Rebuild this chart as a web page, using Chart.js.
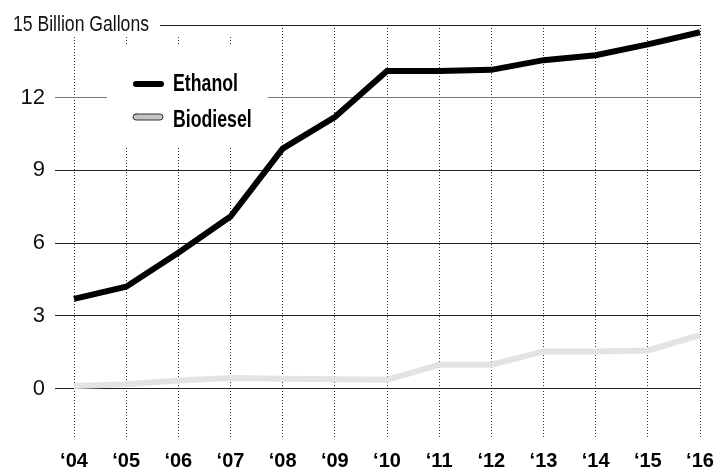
<!DOCTYPE html>
<html>
<head>
<meta charset="utf-8">
<script src="https://cdn.jsdelivr.net/npm/chart.js@4"></script>
<style>
  html, body { margin: 0; padding: 0; background: #fff; }
  #wrap { width: 717px; height: 467px; }
</style>
</head>
<body>
<div id="wrap"><canvas id="myChart" width="717" height="467"></canvas></div>
<script>
// 資料
const years = ['‘04', '‘05', '‘06', '‘07', '‘08', '‘09', '‘10', '‘11', '‘12', '‘13', '‘14', '‘15', '‘16'];
const ethanol = [3.7, 4.2, 5.6, 7.1, 9.9, 11.2, 13.1, 13.1, 13.15, 13.55, 13.75, 14.2, 14.7];
const biodiesel = [0.1, 0.18, 0.33, 0.43, 0.4, 0.38, 0.36, 0.98, 0.98, 1.53, 1.53, 1.57, 2.2];
const yTicks = [0, 3, 6, 9, 12, 15];
const unitLabel = '15 Billion Gallons';

const fontFamily = "'Liberation Sans', Arial, sans-serif";

// 窄體文字（水平壓縮）
function drawNarrow(c, text, x, y, font, squeeze) {
    c.save();
    c.font = font;
    c.translate(x, y);
    c.scale(squeeze, 1);
    c.fillText(text, 0, 0);
    c.restore();
}

// 白底遮罩、單位標籤與圖例
const overlayPlugin = {
    id: 'overlay',
    beforeDatasetsDraw(chart) {
        const c = chart.ctx;
        const y = chart.scales.y;
        const top = y.getPixelForValue(15);
        c.save();
        c.fillStyle = '#fff';
        c.fillRect(0, 0, 160, top + 12);
        c.fillRect(160, top + 1, 90, 9);
        c.fillRect(107, 45, 161, 103);

        c.fillStyle = '#111';
        c.textAlign = 'left';
        c.textBaseline = 'middle';
        drawNarrow(c, unitLabel, 13, top, '22px ' + fontFamily, 0.8);

        // 圖例
        const ds = chart.data.datasets;
        c.lineCap = 'round';
        c.lineWidth = 6;
        c.strokeStyle = ds[0].borderColor;
        c.beginPath();
        c.moveTo(136, 84);
        c.lineTo(161, 84);
        c.stroke();
        c.fillStyle = '#000';
        drawNarrow(c, ds[0].label, 173, 85, 'bold 23px ' + fontFamily, 0.77);

        c.beginPath();
        c.roundRect(133, 114, 30, 6, 3);
        c.fillStyle = '#c4c4c4';
        c.fill();
        c.lineWidth = 1;
        c.strokeStyle = '#333';
        c.stroke();
        c.fillStyle = '#000';
        drawNarrow(c, ds[1].label, 173, 121, 'bold 23px ' + fontFamily, 0.77);
        c.restore();
    }
};

const ctx = document.getElementById('myChart').getContext('2d');
const myChart = new Chart(ctx, {
    type: 'line',
    data: {
        labels: years,
        datasets: [
            {
                label: 'Ethanol',
                data: ethanol,
                borderColor: '#000',
                borderWidth: 6,
                tension: 0,
                fill: false,
                pointRadius: 0
            },
            {
                label: 'Biodiesel',
                data: biodiesel,
                borderColor: '#e3e3e3',
                borderWidth: 6,
                tension: 0,
                fill: false,
                pointRadius: 0
            }
        ]
    },
    options: {
        responsive: false,
        animation: false,
        layout: { padding: { top: 25, right: 17, left: 0, bottom: 0 } },
        plugins: {
            legend: { display: false },
            tooltip: { enabled: false }
        },
        scales: {
            x: {
                grid: {
                    color: '#333',
                    lineWidth: 1,
                    drawTicks: false
                },
                border: { display: false, dash: [1, 2] },
                ticks: {
                    color: '#000',
                    font: { family: fontFamily, size: 20, weight: 'bold' },
                    padding: 12,
                    maxRotation: 0,
                    autoSkip: false
                },
                afterFit(scale) {
                    scale.height = 30;
                    scale.paddingLeft = 0;
                    scale.paddingRight = 0;
                }
            },
            y: {
                min: -2,
                max: 15,
                afterBuildTicks(scale) {
                    scale.ticks = yTicks.map(v => ({ value: v }));
                },
                grid: {
                    color: c => (c.tick && c.tick.value === 12 ? '#777' : '#222'),
                    lineWidth: 1,
                    tickLength: 19
                },
                border: { display: false },
                ticks: {
                    color: '#111',
                    font: { family: fontFamily, size: 22 },
                    padding: 10,
                    callback: v => (v === 15 ? '' : v)
                },
                afterFit(scale) { scale.width = 74; }
            }
        }
    },
    plugins: [overlayPlugin]
});
</script>
</body>
</html>
